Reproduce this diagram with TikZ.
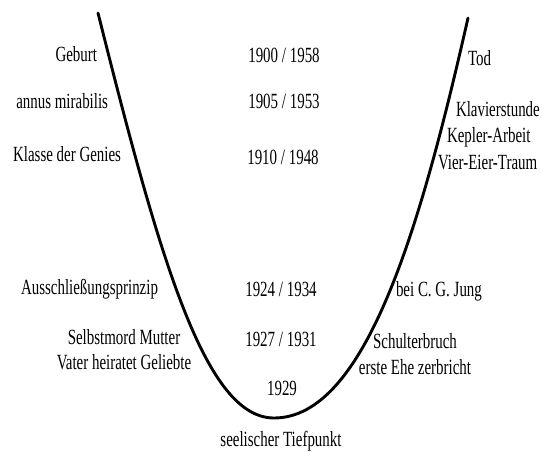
\documentclass[tikz,border=0pt]{standalone}
\usepackage{fontspec}
\usepackage{graphicx}
\setmainfont{Liberation Serif}
\newcommand{\tx}[1]{\scalebox{1}[1.45]{#1}}
\tikzset{
  lbl/.style={font=\fontsize{15}{17}\selectfont, inner sep=0pt, outer sep=0pt, align=center},
  curve/.style={line width=2.9pt, line cap=round, black}
}
\begin{document}
\begin{tikzpicture}[x=1bp, y=-1bp]
\useasboundingbox[fill=white] (0,0) rectangle (542,452);
% U-shaped curve
\coordinate (lt) at (98,13);
\coordinate (bot) at (274,418);
\coordinate (rt) at (468,18);
\draw[curve] (lt) .. controls (160,260) and (205,418) .. (bot)
             .. controls (365,418) and (420,230) .. (rt);
% left labels
\node[lbl, anchor=base east] (geburt) at (97,62) {\tx{Geburt}};
\node[lbl, anchor=base east] (annus) at (108,109) {\tx{annus mirabilis}};
\node[lbl, anchor=base east] (klasse) at (121,162) {\tx{Klasse der Genies}};
\node[lbl, anchor=base east] (pauli) at (158,294) {\tx{Ausschließungsprinzip}};
\node[lbl, anchor=base] (selbst) at (124,344) {\tx{Selbstmord Mutter}};
\node[lbl, anchor=base] (vater) at (124,369) {\tx{Vater heiratet Geliebte}};
% years
\node[lbl, anchor=base] (y1) at (284,63) {\tx{1900 / 1958}};
\node[lbl, anchor=base] (y2) at (284,109) {\tx{1905 / 1953}};
\node[lbl, anchor=base] (y3) at (283,165) {\tx{1910 / 1948}};
\node[lbl, anchor=base] (y4) at (281,296) {\tx{1924 / 1934}};
\node[lbl, anchor=base] (y5) at (281,346) {\tx{1927 / 1931}};
\node[lbl, anchor=base] (y6) at (282,395) {\tx{1929}};
\node[lbl, anchor=base] (tief) at (281,446) {\tx{seelischer Tiefpunkt}};
% right labels
\node[lbl, anchor=base west] (tod) at (468,66) {\tx{Tod}};
\node[lbl, anchor=base west] (klavier) at (456,117) {\tx{Klavierstunde}};
\node[lbl, anchor=base west] (kepler) at (447,143) {\tx{Kepler-Arbeit}};
\node[lbl, anchor=base west] (vier) at (438,170) {\tx{Vier-Eier-Traum}};
\node[lbl, anchor=base west] (jung) at (396,296) {\tx{bei C. G. Jung}};
\node[lbl, anchor=base] (schulter) at (415,348) {\tx{Schulterbruch}};
\node[lbl, anchor=base] (ehe) at (415,374) {\tx{erste Ehe zerbricht}};
\end{tikzpicture}
\end{document}
